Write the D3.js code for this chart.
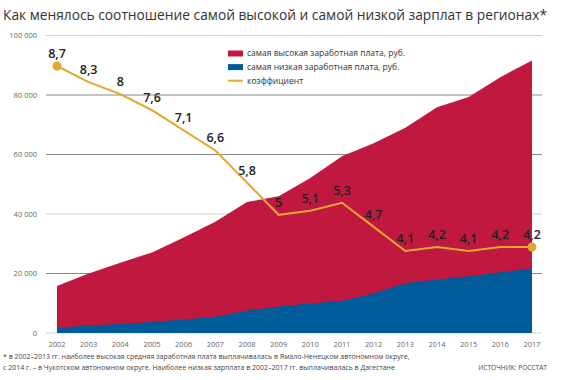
<!DOCTYPE html>
<html>
<head>
<meta charset="utf-8">
<script src="https://cdn.jsdelivr.net/npm/d3@7"></script>
<style>
  body { margin: 0; background: #fff; }
  svg { display: block; font-family: "Open Sans", "Noto Sans", sans-serif; }
</style>
</head>
<body>
<svg width="562" height="380"></svg>
<script>
// данные
var years = [2002, 2003, 2004, 2005, 2006, 2007, 2008, 2009, 2010, 2011, 2012, 2013, 2014, 2015, 2016, 2017];
var highest = [15800, 20000, 23600, 27100, 32100, 37400, 44000, 46000, 52100, 59400, 63800, 69000, 75900, 79300, 86000, 91600];
var lowest = [1800, 2500, 3000, 3700, 4500, 5500, 7500, 8900, 9900, 10800, 13300, 16700, 18000, 19100, 20400, 21700];
var ratio = [8.7, 8.3, 8, 7.6, 7.1, 6.6, 5.8, 5, 5.1, 5.3, 4.7, 4.1, 4.2, 4.1, 4.2, 4.2];
var yTicks = [0, 20000, 40000, 60000, 80000, 100000];
var legendLabels = ["самая высокая заработная плата, руб.", "самая низкая заработная плата, руб.", "коэффициент"];

var red = "#c1183f", blue = "#005b9a", gold = "#e2a830";

var svg = d3.select("svg");

var x = d3.scaleLinear().domain([2002, 2017]).range([57, 532]);
var y = d3.scaleLinear().domain([0, 100000]).range([333, 35.5]);
// коэффициент на своей шкале
var yr = d3.scaleLinear().domain([4.2, 8.7]).range([247, 66]);

svg.append("text")
  .attr("x", 3)
  .attr("y", 20)
  .attr("font-size", 14)
  .attr("fill", "#333")
  .attr("textLength", 544)
  .attr("lengthAdjust", "spacingAndGlyphs")
  .text("Как менялось соотношение самой высокой и самой низкой зарплат в регионах*");

// сетка
var darkLines = [20000, 60000, 80000];
svg.append("g")
  .selectAll("line")
  .data(yTicks)
  .enter().append("line")
    .attr("x1", 46)
    .attr("x2", 542)
    .attr("y1", function(d) { return y(d); })
    .attr("y2", function(d) { return y(d); })
    .attr("stroke", function(d) { return darkLines.indexOf(d) >= 0 ? "#8a8a8a" : "#cfcfcf"; })
    .attr("stroke-width", 1.2);

var fmt = function(d) { return d3.format(",")(d).replace(/,/g, " "); };

svg.append("g")
  .attr("font-size", 7.5)
  .attr("fill", "#666")
  .attr("text-anchor", "end")
  .selectAll("text")
  .data(yTicks)
  .enter().append("text")
    .attr("x", 37)
    .attr("y", function(d) { return y(d); })
    .attr("dy", "0.35em")
    .text(fmt);

var data = years.map(function(yr0, i) {
  return {year: yr0, high: highest[i], low: lowest[i], ratio: ratio[i]};
});

var areaHigh = d3.area()
  .x(function(d) { return x(d.year); })
  .y0(y(0))
  .y1(function(d) { return y(d.high); });

var areaLow = d3.area()
  .x(function(d) { return x(d.year); })
  .y0(y(0))
  .y1(function(d) { return y(d.low); });

svg.append("path").datum(data).attr("d", areaHigh).attr("fill", red);
svg.append("path").datum(data).attr("d", areaLow).attr("fill", blue);

// ось X
svg.append("g")
  .attr("font-size", 7.5)
  .attr("fill", "#666")
  .attr("text-anchor", "middle")
  .selectAll("text")
  .data(years)
  .enter().append("text")
    .attr("x", function(d) { return x(d); })
    .attr("y", 347)
    .text(function(d) { return d; });

// линия коэффициента
var line = d3.line()
  .x(function(d) { return x(d.year); })
  .y(function(d) { return yr(d.ratio); });

svg.append("path")
  .datum(data)
  .attr("d", line)
  .attr("fill", "none")
  .attr("stroke", gold)
  .attr("stroke-width", 2);

svg.append("g")
  .selectAll("circle")
  .data([data[0], data[data.length - 1]])
  .enter().append("circle")
    .attr("cx", function(d) { return x(d.year); })
    .attr("cy", function(d) { return yr(d.ratio); })
    .attr("r", 4.5)
    .attr("fill", gold);

svg.append("g")
  .attr("font-size", 12.5)
  .attr("font-weight", 600)
  .attr("fill", "#222")
  .attr("text-anchor", "middle")
  .selectAll("text")
  .data(data)
  .enter().append("text")
    .attr("x", function(d) { return x(d.year); })
    .attr("y", function(d) { return yr(d.ratio) - 8; })
    .text(function(d) { return String(d.ratio).replace(".", ","); });

// легенда
var legend = svg.append("g")
  .attr("font-size", 8.5)
  .attr("fill", "#333")
  .selectAll("g")
  .data(legendLabels)
  .enter().append("g")
    .attr("transform", function(d, i) { return "translate(228," + (53.5 + i * 13.6) + ")"; });

legend.each(function(d, i) {
  var g = d3.select(this);
  if (i < 2) {
    g.append("rect").attr("x", 0).attr("y", -3).attr("width", 15).attr("height", 6)
      .attr("fill", i === 0 ? red : blue);
  } else {
    g.append("line").attr("x1", 0).attr("x2", 15).attr("y1", 0).attr("y2", 0)
      .attr("stroke", gold).attr("stroke-width", 2);
  }
  g.append("text").attr("x", 19).attr("dy", "0.35em").text(d);
});

// сноска
var foot = svg.append("g").attr("font-size", 7).attr("fill", "#444");
foot.append("text").attr("x", 3).attr("y", 359)
  .text("* в 2002–2013 гг. наиболее высокая средняя заработная плата выплачивалась в Ямало-Ненецком автономном округе,");
foot.append("text").attr("x", 3).attr("y", 370)
  .text("с 2014 г. – в Чукотском автономном округе. Наиболее низкая зарплата в 2002–2017 гг. выплачивалась в Дагестане");
foot.append("text").attr("x", 547).attr("y", 370).attr("text-anchor", "end")
  .attr("font-size", 6.6)
  .text("ИСТОЧНИК: РОССТАТ");
</script>
</body>
</html>
